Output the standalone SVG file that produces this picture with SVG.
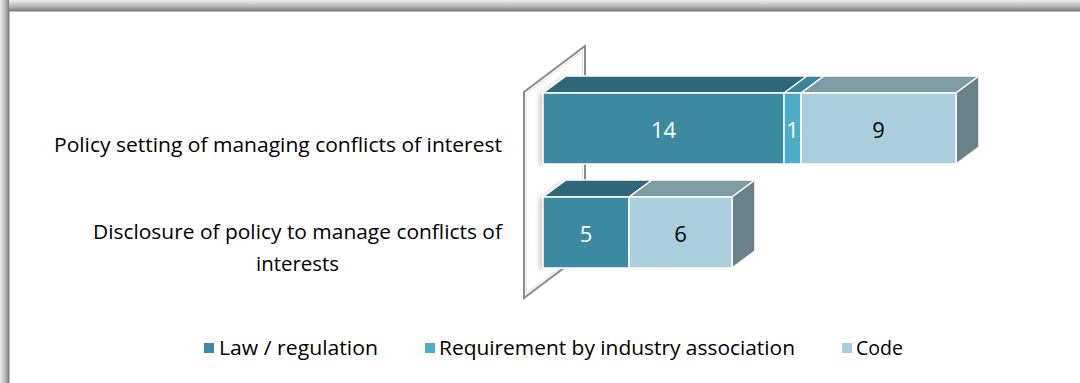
<svg xmlns="http://www.w3.org/2000/svg" width="1080" height="383" viewBox="0 0 1080 383">
<defs>
<linearGradient id="gTop" x1="0" y1="0" x2="0" y2="1">
<stop offset="0" stop-color="#eeeeee"/><stop offset="0.6" stop-color="#b5b5b5"/><stop offset="0.9" stop-color="#8a8a8a"/><stop offset="1" stop-color="#7a7a7a"/>
</linearGradient>
<linearGradient id="gLeft" x1="0" y1="0" x2="1" y2="0">
<stop offset="0" stop-color="#eeeeee"/><stop offset="0.6" stop-color="#b5b5b5"/><stop offset="0.9" stop-color="#8a8a8a"/><stop offset="1" stop-color="#7a7a7a"/>
</linearGradient>
<filter id="blur" x="-50%" y="-50%" width="200%" height="200%"><feGaussianBlur stdDeviation="2.5"/></filter>
<style>
text{font-family:"Open Sans","Liberation Sans",sans-serif;}
.cat{font-size:20.5px;fill:#000;}
.val{font-size:22px;text-anchor:middle;}
.w{fill:#ffffff;}
.k{fill:#000000;}
.leg{font-size:20px;fill:#000;}
.face{stroke:#ffffff;stroke-width:1.5;stroke-linejoin:round;}
.lawF{fill:#3c8aa2;}
.lawT{fill:#2e6878;}
.reqF{fill:#4badc7;}
.reqT{fill:#3a8598;}
.codeF{fill:#a9cfdd;}
.codeT{fill:#7f9ba4;}
.codeS{fill:#6c828b;}
</style>
</defs>
<rect x="0" y="0" width="1080" height="383" fill="#ffffff"/>
<rect x="0" y="0" width="1080" height="11" fill="url(#gTop)"/>
<rect x="0" y="0" width="9" height="383" fill="url(#gLeft)"/>
<rect x="9" y="11" width="1071" height="372" fill="#ffffff"/>
<line x1="9" y1="11" x2="1080" y2="11" stroke="#7d7d7d" stroke-width="1"/>
<line x1="9" y1="11" x2="9" y2="383" stroke="#7d7d7d" stroke-width="1"/>

<g id="wall">
<polygon points="524,92 585,46 585,252 524,298" fill="#ffffff" stroke="#8a8a8a" stroke-width="2"/>
<polygon points="526.5,93.5 582.5,51 582.5,250.5 526.5,293" fill="none" stroke="#dddddd" stroke-width="1"/>
</g>

<g id="shadows" filter="url(#blur)" opacity="0.55">
<polygon points="540,95 563,78 566,78 543,95 543,165 540,165" fill="#555"/>
<polygon points="540,199 563,182 566,182 543,199 543,269 540,269" fill="#555"/>
</g>

<g id="bar-policy-setting">
<polygon class="face lawT" points="543,93 784,93 807,76 566,76"/>
<polygon class="face reqT" points="784,93 801,93 824,76 807,76"/>
<polygon class="face codeT" points="801,93 956,93 979,76 824,76"/>
<polygon class="face codeS" points="956,93 979,76 979,147 956,164"/>
<rect class="face lawF" x="543" y="93" width="241" height="71"/>
<rect class="face reqF" x="784" y="93" width="17" height="71"/>
<rect class="face codeF" x="801" y="93" width="155" height="71"/>
<text class="val w" x="663.5" y="138">14</text>
<text class="val w" x="792.5" y="138">1</text>
<text class="val k" x="878.5" y="138">9</text>
</g>

<g id="bar-disclosure">
<polygon class="face lawT" points="543,197 629,197 652,180 566,180"/>
<polygon class="face codeT" points="629,197 732,197 755,180 652,180"/>
<polygon class="face codeS" points="732,197 755,180 755,251 732,268"/>
<rect class="face lawF" x="543" y="197" width="86" height="71"/>
<rect class="face codeF" x="629" y="197" width="103" height="71"/>
<text class="val w" x="586" y="242">5</text>
<text class="val k" x="680.5" y="242">6</text>
</g>

<g id="category-labels">
<text class="cat" x="502" y="152" text-anchor="end" textLength="448" lengthAdjust="spacingAndGlyphs">Policy setting of managing conflicts of interest</text>
<text class="cat" x="502" y="239" text-anchor="end" textLength="409" lengthAdjust="spacingAndGlyphs">Disclosure of policy to manage conflicts of</text>
<text class="cat" x="297.5" y="271" text-anchor="middle" textLength="83" lengthAdjust="spacingAndGlyphs">interests</text>
</g>

<g id="legend">
<rect x="204" y="343" width="10" height="10" class="lawF"/>
<text class="leg" x="219" y="355" textLength="159" lengthAdjust="spacingAndGlyphs">Law / regulation</text>
<rect x="425" y="343" width="10" height="10" class="reqF"/>
<text class="leg" x="439" y="355" textLength="356" lengthAdjust="spacingAndGlyphs">Requirement by industry association</text>
<rect x="842" y="343" width="10" height="10" class="codeF"/>
<text class="leg" x="856" y="355" textLength="47" lengthAdjust="spacingAndGlyphs">Code</text>
</g>
<g id="connectors"/>
</svg>
